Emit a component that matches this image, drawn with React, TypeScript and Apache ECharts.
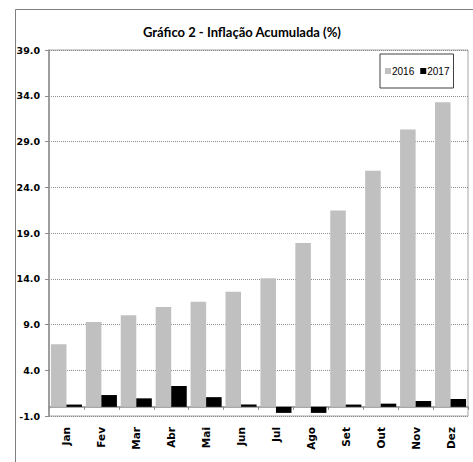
import React, { useEffect, useRef } from "react";
import * as echarts from "echarts";

const categories = ["Jan", "Fev", "Mar", "Abr", "Mai", "Jun", "Jul", "Ago", "Set", "Out", "Nov", "Dez"];
const series2016 = [6.85, 9.26, 10.0, 10.9, 11.5, 12.58, 14.05, 17.9, 21.46, 25.8, 30.3, 33.3];
const series2017 = [0.25, 1.29, 0.93, 2.28, 1.06, 0.26, -0.66, -0.66, 0.25, 0.35, 0.64, 0.86];
const seriesNames = ["2016", "2017"];
const titleText = "Gráfico 2 - Inflação Acumulada (%)";

export default function App() {
  const ref = useRef<HTMLDivElement>(null);
  useEffect(() => {
    if (!ref.current) return;
    const chart = echarts.init(ref.current, null, { renderer: "svg" });
    chart.setOption({
      animation: false,
      backgroundColor: "#ffffff",
      title: {
        text: titleText,
        left: 143,
        top: 25,
        padding: 0,
        textStyle: { fontFamily: "Lato", fontWeight: "bold", fontSize: 13, color: "#000000" },
      },
      legend: {
        data: seriesNames,
        left: 380,
        top: 54,
        orient: "horizontal",
        padding: [12, 4, 12, 5],
        itemWidth: 6,
        itemHeight: 6,
        itemGap: 6,
        icon: "rect",
        borderColor: "#404040",
        borderWidth: 1,
        backgroundColor: "#ffffff",
        textStyle: { fontFamily: "Liberation Sans", fontSize: 10, color: "#000000", padding: [0, 0, 0, -4] },
      },
      graphic: [
        {
          type: "rect",
          z: -10,
          shape: { x: 15.5, y: 9.5, width: 600, height: 600 },
          style: { fill: "none", stroke: "#7f7f7f", lineWidth: 1 },
        },
      ],
      grid: {
        left: 49,
        right: 5,
        top: 50,
        bottom: 46,
        show: true,
        borderColor: "#a6a6a6",
        borderWidth: 1,
        backgroundColor: "transparent",
      },
      xAxis: {
        type: "category",
        data: categories,
        axisLine: { onZero: true, lineStyle: { color: "#8c8c8c", width: 1.5 } },
        axisTick: { show: true, alignWithLabel: false, length: 3, lineStyle: { color: "#8c8c8c" } },
        axisLabel: {
          rotate: 90,
          margin: 11,
          interval: 0,
          fontFamily: "DejaVu Sans",
          fontWeight: "bold",
          fontSize: 10.5,
          color: "#000000",
        },
      },
      yAxis: {
        type: "value",
        min: -1,
        max: 39,
        interval: 5,
        axisLine: { show: true, lineStyle: { color: "#8c8c8c", width: 1.5 } },
        axisTick: { show: true, length: 4, lineStyle: { color: "#8c8c8c" } },
        axisLabel: {
          formatter: (v: number) => v.toFixed(1),
          margin: 9,
          fontFamily: "DejaVu Sans",
          fontWeight: "bold",
          fontSize: 9.5,
          color: "#000000",
        },
        splitLine: { show: true, lineStyle: { color: "#8c8c8c", type: "dotted", width: 1 } },
      },
      series: [
        {
          name: seriesNames[0],
          type: "bar",
          data: series2016,
          barCategoryGap: "11%",
          barGap: "0%",
          itemStyle: { color: "#c0c0c0" },
        },
        {
          name: seriesNames[1],
          type: "bar",
          data: series2017,
          barCategoryGap: "11%",
          barGap: "0%",
          itemStyle: { color: "#000000" },
        },
      ],
    });
    return () => chart.dispose();
  }, []);
  return (
    <div
      ref={ref}
      style={{ position: "fixed", left: 0, top: 0, width: 473, height: 462, background: "#fff" }}
    />
  );
}
